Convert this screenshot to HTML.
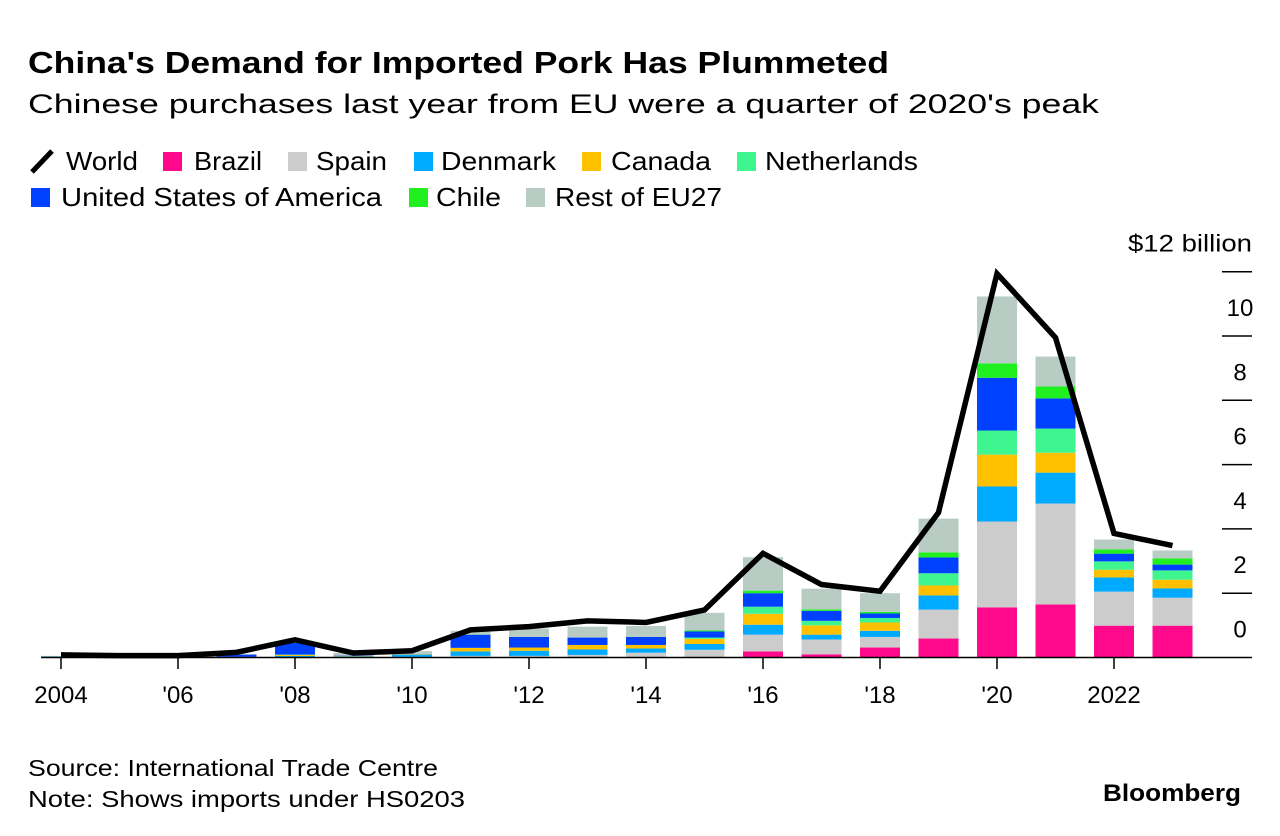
<!DOCTYPE html>
<html><head><meta charset="utf-8"><style>
body{margin:0;background:#fff;font-family:"Liberation Sans",sans-serif;}
svg{display:block}
</style></head><body>
<svg width="1280" height="836" xmlns="http://www.w3.org/2000/svg">
<text x="28" y="73" font-size="31" font-weight="bold" fill="#000" textLength="861" lengthAdjust="spacingAndGlyphs">China's Demand for Imported Pork Has Plummeted</text>
<text x="28" y="113" font-size="27" fill="#000" textLength="1071" lengthAdjust="spacingAndGlyphs">Chinese purchases last year from EU were a quarter of 2020's peak</text>
<g id="legend"></g>
<g id="plot"></g>
<text x="28" y="776" font-size="23" fill="#000" textLength="410" lengthAdjust="spacingAndGlyphs">Source: International Trade Centre</text>
<text x="28" y="807" font-size="23" fill="#000" textLength="437" lengthAdjust="spacingAndGlyphs">Note: Shows imports under HS0203</text>
<text x="1103" y="801" font-size="24" font-weight="bold" fill="#000" textLength="138" lengthAdjust="spacingAndGlyphs">Bloomberg</text>
</svg>
<script>
const years=[2004,2005,2006,2007,2008,2009,2010,2011,2012,2013,2014,2015,2016,2017,2018,2019,2020,2021,2022,2023];
const seriesNames=["Brazil","Spain","Denmark","Canada","Netherlands","United States of America","Chile","Rest of EU27"];
const seriesColors=["#ff0a8d","#cccccc","#00aaff","#ffc000","#3ff58f","#0040ff","#20f020","#b8ccc4"];
const brazil=[0,0,0,0,0,0,0,0,0,0,0,0,0.19,0.1,0.31,0.59,1.56,1.65,0.99,0.99];
const spain=[0,0,0,0,0.01,0.01,0.02,0.05,0.05,0.08,0.15,0.24,0.52,0.46,0.33,0.9,2.67,3.14,1.06,0.87];
const denmark=[0.03,0.01,0.01,0.01,0.04,0.03,0.06,0.14,0.16,0.17,0.13,0.18,0.31,0.15,0.19,0.44,1.09,0.96,0.44,0.29];
const canada=[0,0,0,0.01,0.03,0.01,0.01,0.11,0.1,0.14,0.11,0.16,0.34,0.29,0.26,0.31,0.99,0.62,0.24,0.27];
const netherlands=[0,0,0,0,0.01,0,0.01,0,0,0,0,0.04,0.22,0.14,0.14,0.38,0.75,0.75,0.26,0.29];
const usa=[0,0,0,0.07,0.36,0.01,0.01,0.41,0.33,0.23,0.25,0.19,0.42,0.31,0.14,0.49,1.64,0.94,0.24,0.18];
const chile=[0,0,0,0,0.01,0,0,0.01,0,0,0,0.03,0.08,0.05,0.05,0.16,0.45,0.37,0.13,0.19];
const restEU=[0.02,0.01,0.01,0.02,0.04,0.08,0.09,0.11,0.26,0.34,0.34,0.55,1.04,0.64,0.58,1.05,2.08,0.93,0.31,0.25];
const world=[0.08,0.06,0.06,0.16,0.55,0.14,0.21,0.86,0.96,1.14,1.09,1.48,3.24,2.27,2.06,4.51,11.94,9.95,3.86,3.48];
const yTicks=[0,2,4,6,8,10,12];
const xTickYears=[2004,2006,2008,2010,2012,2014,2016,2018,2020,2022];
const xTickLabels=["2004","'06","'08","'10","'12","'14","'16","'18","'20","2022"];

const NS="http://www.w3.org/2000/svg";
const X=y=>61+(y-2004)*58.5;
const Y=v=>657.5-v*32.15;
const plot=document.getElementById('plot');
const legend=document.getElementById('legend');
function mk(tag,attrs,parent){const e=document.createElementNS(NS,tag);for(const k in attrs)e.setAttribute(k,attrs[k]);parent.appendChild(e);return e;}

const series=[brazil,spain,denmark,canada,netherlands,usa,chile,restEU];
years.forEach((yr,i)=>{
  let base=0;
  series.forEach((s,j)=>{
    const v=s[i];
    if(v>0){
      const r=mk('rect',{x:X(yr)-20,y:Y(base+v),width:40,height:Y(base)-Y(base+v),fill:seriesColors[j]},plot);
      
      
    }
    base+=v;
  });
});
const ax=mk('line',{x1:41,x2:1252,y1:657.5,y2:657.5,stroke:'#000','stroke-width':1.5},plot);


xTickYears.forEach((yr,i)=>{
  const t=mk('line',{x1:X(yr),x2:X(yr),y1:658,y2:669,stroke:'#000','stroke-width':1.5},plot);
  
  
  const l=mk('text',{x:X(yr),y:703,'font-size':24,'text-anchor':'middle',fill:'#000'},plot);
  l.textContent=xTickLabels[i];
  
  
});
yTicks.forEach(v=>{
  if(v>0){
    const t=mk('line',{x1:1222,x2:1252,y1:Y(v),y2:Y(v),stroke:'#000','stroke-width':1.5},plot);
    
    
  }
  const attrs={x:v===12?1128:1240,y:Y(v)-20,'font-size':24,'text-anchor':v===12?'start':'middle',fill:'#000'};
  if(v===12){attrs.textLength=124;attrs.lengthAdjust='spacingAndGlyphs';}
  const l=mk('text',attrs,plot);
  l.textContent=v===12?'$12 billion':String(v);
  
  
});
const pl=mk('polyline',{points:years.map((yr,i)=>X(yr)+','+Y(world[i])).join(' '),fill:'none',stroke:'#000','stroke-width':5.5,'stroke-linejoin':'miter'},plot);



const ws=mk('line',{x1:32,y1:172,x2:52,y2:151,stroke:'#000','stroke-width':5},legend);


const wt=mk('text',{x:66,y:170,'font-size':26,fill:'#000',textLength:72,lengthAdjust:'spacingAndGlyphs'},legend);
wt.textContent='World';


const legPos=[[163,194,152,68],[288,316,152,71],[414,441,152,115],[582,611,152,100],[737,765,152,153],[31,61,188,321],[409,436,188,65],[526,555,188,167]];
seriesNames.forEach((nm,k)=>{
  const p=legPos[k];
  const r=mk('rect',{x:p[0],y:p[2],width:19,height:19,fill:seriesColors[k]},legend);
  
  
  const t=mk('text',{x:p[1],y:p[2]+18,'font-size':26,fill:'#000',textLength:p[3],lengthAdjust:'spacingAndGlyphs'},legend);
  t.textContent=nm;
  
  
});
</script>
</body></html>
